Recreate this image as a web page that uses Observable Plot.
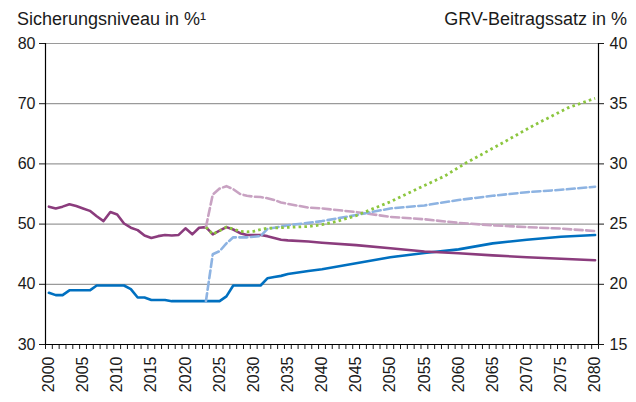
<!DOCTYPE html>
<html><head><meta charset="utf-8">
<script src="https://cdn.jsdelivr.net/npm/d3@7"></script>
<script src="https://cdn.jsdelivr.net/npm/@observablehq/plot@0.6"></script>
<style>
body{margin:0;background:#fff;}
svg{display:block}
#wrap{position:relative;width:636px;height:402px;}
.ttl{position:absolute;top:10px;font-family:'Liberation Sans',Arial,Helvetica,sans-serif;font-size:18px;line-height:18px;color:#1a1a1a;white-space:nowrap;}
#tl{left:17px;}
#tr{right:9px;text-align:right;}
</style>
</head><body><div id="wrap"><div id="chart"></div>
<div class="ttl" id="tl">Sicherungsniveau in %¹</div>
<div class="ttl" id="tr">GRV-Beitragssatz in %</div></div>
<script>
// Sicherungsniveau (left axis, %)
const niveauYears = [2000,2001,2002,2003,2004,2005,2006,2007,2008,2009,2010,2011,2012,2013,2014,2015,2016,2017,2018,2019,2020,2021,2022,2023,2024,2025,2026,2027,2028,2029,2030,2031,2032,2033,2034,2035,2038,2040,2045,2050,2055,2060,2065,2070,2075,2080];
const niveauValues = [52.9,52.6,52.9,53.3,53.0,52.6,52.2,51.3,50.5,52.0,51.6,50.1,49.4,49.0,48.1,47.7,48.0,48.2,48.1,48.2,49.3,48.3,49.4,49.5,48.3,48.9,49.5,49.1,48.5,48.2,48.2,48.2,48.0,47.7,47.4,47.3,47.1,46.9,46.5,46.0,45.45,45.15,44.8,44.5,44.25,44.0];

// Beitragssatz (right axis, %)
const beitragYears = [2000,2001,2002,2003,2004,2005,2006,2007,2008,2009,2010,2011,2012,2013,2014,2015,2016,2017,2018,2019,2020,2021,2022,2023,2024,2025,2026,2027,2028,2029,2030,2031,2032,2033,2034,2035,2038,2040,2045,2050,2055,2060,2065,2070,2075,2080];
const beitragValues = [19.3,19.1,19.1,19.5,19.5,19.5,19.5,19.9,19.9,19.9,19.9,19.9,19.6,18.9,18.9,18.7,18.7,18.7,18.6,18.6,18.6,18.6,18.6,18.6,18.6,18.6,19.0,19.9,19.9,19.9,19.9,19.9,20.5,20.6,20.7,20.85,21.1,21.25,21.75,22.25,22.6,22.9,23.4,23.7,23.95,24.1];

// Alternative Sicherungsniveau (left axis, dashed light purple)
const niveauAltYears = [2023,2024,2025,2026,2027,2028,2029,2030,2031,2032,2033,2034,2035,2038,2040,2045,2050,2055,2060,2065,2070,2075,2080];
const niveauAltValues = [49.5,54.9,55.9,56.3,55.8,55.0,54.7,54.55,54.5,54.3,54.0,53.6,53.35,52.75,52.6,52.0,51.2,50.8,50.2,49.8,49.5,49.25,48.85];

// Alternative Beitragssatz (right axis, dashed light blue)
const beitragAltYears = [2023,2024,2025,2026,2027,2028,2029,2030,2031,2032,2033,2035,2038,2040,2045,2050,2055,2060,2065,2070,2075,2080];
const beitragAltValues = [18.6,22.5,22.75,23.4,23.9,23.9,23.9,23.95,24.0,24.6,24.7,24.9,25.1,25.25,25.75,26.3,26.55,27.0,27.35,27.65,27.85,28.1];

// Dotted green series (left axis units)
const greenYears = [2023,2024,2025,2026,2027,2028,2029,2030,2031,2032,2034,2036,2038,2040,2042,2045,2048,2050,2052,2055,2058,2061,2066,2071,2076,2080];
const greenValues = [49.5,48.3,48.9,49.5,49.2,48.8,48.7,48.8,49.1,49.3,49.4,49.5,49.6,49.9,50.4,51.4,52.8,53.7,54.8,56.4,58.0,60.1,63.2,66.4,69.3,70.9];

const leftTicks = [30,40,50,60,70,80];
const rightTicks = [15,20,25,30,35,40];
const gridTicks = [40,50,60,70,80];
const yearLabels = d3.range(2000, 2081, 5);
const yearBounds = d3.range(1999.5, 2081, 1);

const rows = (ys, vs, k) => ys.map((y, i) => ({year: y, v: vs[i] * k}));
const font = "'Liberation Sans', Arial, Helvetica, sans-serif";

const chart = Plot.plot({
  width: 636, height: 402,
  marginLeft: 45, marginRight: 38, marginTop: 43, marginBottom: 58,
  x: {domain: [1999.5, 2080.5]},
  y: {domain: [30, 80]},
  style: {fontFamily: font, fontSize: "16px", color: "#1a1a1a", background: "#fff", overflow: "visible"},
  marks: [
    Plot.ruleY(gridTicks, {stroke: "#9a9a9a", strokeWidth: 1.2}),
    Plot.axisY({anchor: "left", ticks: leftTicks, tickSize: 6, tickPadding: 4, label: null, fontSize: 16}),
    Plot.axisY({anchor: "right", ticks: rightTicks.map(d => d * 2), tickFormat: d => String(d / 2), tickSize: 5, tickPadding: 6, label: null, fontSize: 16}),
    Plot.axisX({ticks: yearBounds, tickFormat: () => "", tickSize: 5, label: null}),
    Plot.text(yearLabels, {x: d => d, y: 28.0, text: d => String(d), rotate: -90, textAnchor: "end", fontSize: 16}),
    Plot.ruleX([1999.5, 2080.5], {stroke: "#000", strokeWidth: 1.2}),
    Plot.ruleY([30], {stroke: "#000", strokeWidth: 1.2}),
    Plot.line(rows(beitragYears, beitragValues, 2), {x: "year", y: "v", stroke: "#0070C0", strokeWidth: 2.6}),
    Plot.line(rows(niveauYears, niveauValues, 1), {x: "year", y: "v", stroke: "#8B3C7D", strokeWidth: 2.6}),
    Plot.line(rows(niveauAltYears, niveauAltValues, 1), {x: "year", y: "v", stroke: "#C8A2C2", strokeWidth: 2.6, strokeDasharray: "8,3.5"}),
    Plot.line(rows(beitragAltYears, beitragAltValues, 2), {x: "year", y: "v", stroke: "#8DB3E2", strokeWidth: 2.6, strokeDasharray: "8,3.5"}),
    Plot.line(rows(greenYears, greenValues, 1), {x: "year", y: "v", stroke: "#8CC63F", strokeWidth: 2.8, strokeDasharray: "2.6,3.2", strokeLinecap: "butt", strokeLinejoin: "miter"})
  ]
});
document.getElementById("chart").append(chart);
</script>
</body></html>
